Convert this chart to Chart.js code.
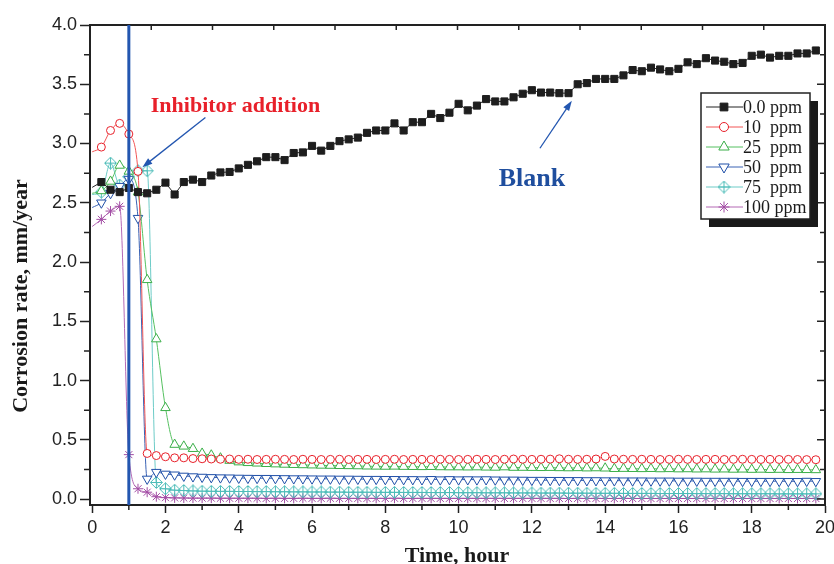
<!DOCTYPE html>
<html>
<head>
<meta charset="utf-8">
<script src="https://cdn.jsdelivr.net/npm/chart.js@4.4.0/dist/chart.umd.min.js"></script>
<style>
  html, body { margin: 0; padding: 0; background: #fff; }
</style>
</head>
<body>
<canvas id="myChart" width="834" height="564"></canvas>
<script>

// sampling times, hour
var hours = [
    0, 0.25, 0.5, 0.75, 1, 1.25, 1.5, 1.75, 2, 2.25, 2.5, 2.75, 3, 3.25, 3.5, 3.75,
    4, 4.25, 4.5, 4.75, 5, 5.25, 5.5, 5.75, 6, 6.25, 6.5, 6.75, 7, 7.25, 7.5, 7.75,
    8, 8.25, 8.5, 8.75, 9, 9.25, 9.5, 9.75, 10, 10.25, 10.5, 10.75, 11, 11.25, 11.5, 11.75,
    12, 12.25, 12.5, 12.75, 13, 13.25, 13.5, 13.75, 14, 14.25, 14.5, 14.75, 15, 15.25, 15.5, 15.75,
    16, 16.25, 16.5, 16.75, 17, 17.25, 17.5, 17.75, 18, 18.25, 18.5, 18.75, 19, 19.25, 19.5, 19.75
];

// corrosion rate, mm/year
var ppm0 = [
    2.63, 2.675, 2.61, 2.59,  2.625, 2.59, 2.58, 2.61,  2.67, 2.57, 2.675, 2.695,  2.675, 2.73, 2.756, 2.76,
    2.79, 2.82, 2.85, 2.885,  2.885, 2.86, 2.92, 2.925,  2.98, 2.94, 2.98, 3.02,  3.035, 3.05, 3.09, 3.11,
    3.11, 3.17, 3.11, 3.18,  3.18, 3.25, 3.215, 3.26,  3.335, 3.28, 3.32, 3.375,  3.355, 3.355, 3.39, 3.42,
    3.45, 3.43, 3.43, 3.425,  3.425, 3.50, 3.51, 3.545,  3.545, 3.545, 3.575, 3.62,  3.61, 3.64, 3.625, 3.61,
    3.63, 3.685, 3.67, 3.72,  3.70, 3.69, 3.67, 3.68,  3.74, 3.75, 3.725, 3.74,  3.74, 3.76, 3.76, 3.785
];
var ppm10 = [
    2.93, 2.97, 3.11, 3.17,  3.08, 2.765, 0.385, 0.367,  0.357, 0.348, 0.348, 0.342,  0.340, 0.338, 0.336, 0.338,
    0.335, 0.336, 0.334, 0.335,  0.336, 0.335, 0.334, 0.336,  0.335, 0.334, 0.335, 0.336,  0.334, 0.335, 0.335, 0.334,
    0.335, 0.336, 0.334, 0.335,  0.335, 0.334, 0.336, 0.335,  0.334, 0.335, 0.336, 0.335,  0.334, 0.336, 0.338, 0.336,
    0.335, 0.336, 0.337, 0.340,  0.336, 0.335, 0.336, 0.338,  0.360, 0.338, 0.336, 0.335,  0.336, 0.335, 0.334, 0.335,
    0.336, 0.335, 0.334, 0.335,  0.335, 0.334, 0.335, 0.336,  0.335, 0.334, 0.335, 0.334,  0.335, 0.334, 0.333, 0.332
];
var ppm25 = [
    2.58, 2.60, 2.68, 2.815,  2.765, 2.59, 1.85, 1.35,  0.77, 0.46, 0.445, 0.425,  0.385, 0.37, 0.345, 0.325,
    0.312, 0.306, 0.302, 0.298,  0.295, 0.292, 0.290, 0.288,  0.286, 0.284, 0.283, 0.281,  0.280, 0.279, 0.277, 0.276,
    0.275, 0.276, 0.274, 0.273,  0.272, 0.273, 0.271, 0.270,  0.270, 0.269, 0.270, 0.268,  0.267, 0.270, 0.266, 0.266,
    0.265, 0.264, 0.265, 0.263,  0.262, 0.263, 0.261, 0.262,  0.260, 0.256, 0.257, 0.256,  0.255, 0.256, 0.254, 0.255,
    0.253, 0.254, 0.252, 0.253,  0.251, 0.252, 0.250, 0.251,  0.249, 0.250, 0.248, 0.249,  0.247, 0.248, 0.247, 0.246
];
var ppm50 = [
    2.46, 2.50, 2.58, 2.64,  2.70, 2.37, 0.17, 0.227,  0.212, 0.205, 0.195, 0.190,  0.186, 0.183, 0.181, 0.180,
    0.178, 0.177, 0.176, 0.176,  0.175, 0.174, 0.173, 0.173,  0.172, 0.171, 0.171, 0.170,  0.170, 0.169, 0.168, 0.168,
    0.167, 0.167, 0.166, 0.166,  0.165, 0.167, 0.164, 0.166,  0.164, 0.165, 0.164, 0.165,  0.163, 0.162, 0.162, 0.161,
    0.160, 0.160, 0.159, 0.159,  0.158, 0.158, 0.157, 0.157,  0.156, 0.156, 0.155, 0.155,  0.155, 0.154, 0.154, 0.154,
    0.153, 0.153, 0.153, 0.152,  0.152, 0.152, 0.152, 0.151,  0.151, 0.151, 0.151, 0.151,  0.150, 0.150, 0.152, 0.150
];
var ppm75 = [
    2.57, 2.59, 2.835, 2.65,  2.72, 2.77, 2.77, 0.14,  0.087, 0.075, 0.072, 0.069,  0.067, 0.066, 0.065, 0.065,
    0.064, 0.064, 0.063, 0.063,  0.062, 0.062, 0.061, 0.061,  0.060, 0.060, 0.059, 0.059,  0.058, 0.058, 0.058, 0.057,
    0.057, 0.057, 0.056, 0.056,  0.056, 0.055, 0.055, 0.055,  0.054, 0.054, 0.054, 0.053,  0.053, 0.053, 0.052, 0.052,
    0.052, 0.051, 0.051, 0.051,  0.050, 0.050, 0.050, 0.049,  0.049, 0.049, 0.048, 0.048,  0.048, 0.048, 0.047, 0.047,
    0.047, 0.047, 0.046, 0.046,  0.046, 0.046, 0.045, 0.045,  0.045, 0.045, 0.045, 0.044,  0.044, 0.044, 0.044, 0.044
];
var ppm100 = [
    2.30, 2.36, 2.43, 2.47,  0.375, 0.087, 0.058, 0.020,  0.012, 0.010, 0.009, 0.008,  0.008, 0.008, 0.007, 0.007,
    0.007, 0.007, 0.007, 0.006,  0.007, 0.006, 0.006, 0.007,  0.006, 0.006, 0.007, 0.006,  0.006, 0.006, 0.006, 0.006,
    0.006, 0.007, 0.006, 0.006,  0.006, 0.006, 0.006, 0.006,  0.006, 0.006, 0.006, 0.006,  0.006, 0.006, 0.006, 0.006,
    0.006, 0.006, 0.006, 0.006,  0.005, 0.006, 0.005, 0.006,  0.005, 0.005, 0.006, 0.005,  0.005, 0.005, 0.005, 0.005,
    0.005, 0.005, 0.005, 0.005,  0.005, 0.005, 0.005, 0.005,  0.005, 0.005, 0.005, 0.005,  0.005, 0.005, 0.005, 0.005
];

var seriesNames = ["0.0 ppm", "10  ppm", "25  ppm", "50  ppm", "75  ppm", "100 ppm"];
var seriesValues = [ppm0, ppm10, ppm25, ppm50, ppm75, ppm100];
var xTicks = [0, 2, 4, 6, 8, 10, 12, 14, 16, 18, 20];
var yTicks = [0, 0.5, 1, 1.5, 2, 2.5, 3, 3.5, 4];
var additionTime = 1;   // hour

// styles
var lineColors = ["#222222", "#f25555", "#55c060", "#3a62b4", "#6ccbc7", "#b468b4"];
var markColors = ["#1e1e1e", "#e8202a", "#3aae48", "#1f4fa8", "#4dbcb8", "#a24ca4"];

function diamondCross(color) {
    var c = document.createElement("canvas");
    c.width = 13; c.height = 13;
    var g = c.getContext("2d");
    g.strokeStyle = color; g.lineWidth = 1;
    g.beginPath();
    g.moveTo(6.5, 0.5); g.lineTo(12.5, 6.5); g.lineTo(6.5, 12.5); g.lineTo(0.5, 6.5); g.closePath();
    g.moveTo(6.5, 1); g.lineTo(6.5, 12);
    g.moveTo(1, 6.5); g.lineTo(12, 6.5);
    g.stroke();
    return c;
}

var markStyles = ["rect", "circle", "triangle", "triangle", diamondCross(markColors[4]), "star"];
var markRotation = [0, 0, 0, 180, 0, 0];
var markRadius = [5, 4, 5.5, 5.5, 6, 5];
var markFill = ["#1e1e1e", "#ffffff", "#ffffff", "#ffffff", "#ffffff", "#ffffff"];

var datasets = seriesValues.map(function (vals, k) {
    return {
        label: seriesNames[k],
        data: vals.map(function (v, i) { return { x: hours[i], y: v }; }),
        borderColor: lineColors[k],
        borderWidth: 1,
        tension: k === 0 ? 0 : 0.4,
        cubicInterpolationMode: k === 0 ? "default" : "monotone",
        pointStyle: markStyles[k],
        rotation: markRotation[k],
        pointRadius: function (c) { return c.dataIndex === 0 ? 0 : markRadius[k]; },
        pointBorderColor: markColors[k],
        pointBackgroundColor: markFill[k],
        pointBorderWidth: 1
    };
});

// annotations, in data units
var notes = [
    { text: "Inhibitor addition", x: 3.91, y: 3.27, color: "#e8202a", size: 22 },
    { text: "Blank", x: 12.0, y: 2.64, color: "#1f4e9e", size: 26 }
];
var arrows = [
    { from: [3.09, 3.22], to: [1.37, 2.80] },
    { from: [12.22, 2.96], to: [13.09, 3.36] }
];

function drawArrow(ctx, x1, y1, x2, y2, color) {
    var ang = Math.atan2(y2 - y1, x2 - x1), len = 10, w = 3.5;
    var ca = Math.cos(ang), sa = Math.sin(ang);
    ctx.strokeStyle = color; ctx.fillStyle = color; ctx.lineWidth = 1.3;
    ctx.beginPath(); ctx.moveTo(x1, y1); ctx.lineTo(x2 - ca * len * 0.7, y2 - sa * len * 0.7); ctx.stroke();
    ctx.beginPath();
    ctx.moveTo(x2, y2);
    ctx.lineTo(x2 - ca * len + sa * w, y2 - sa * len - ca * w);
    ctx.lineTo(x2 - ca * len - sa * w, y2 - sa * len + ca * w);
    ctx.closePath(); ctx.fill();
}

var decor = {
    id: "decor",
    afterDatasetsDraw: function (chart) {
        var ctx = chart.ctx, a = chart.chartArea;
        var xs = chart.scales.x, ys = chart.scales.y;
        ctx.save();

        // frame top / right
        ctx.strokeStyle = "#222"; ctx.lineWidth = 2;
        ctx.beginPath();
        ctx.moveTo(a.left, a.top); ctx.lineTo(a.right, a.top); ctx.lineTo(a.right, a.bottom);
        ctx.stroke();

        // minor ticks
        ctx.lineWidth = 1.5;
        ctx.beginPath();
        for (var h = 1; h < 20; h += 2) {
            var px = xs.getPixelForValue(h);
            ctx.moveTo(px, a.bottom); ctx.lineTo(px, a.bottom + 5);
        }
        for (var v = 0.25; v < 4; v += 0.5) {
            var py = ys.getPixelForValue(v);
            ctx.moveTo(a.left, py); ctx.lineTo(a.left - 6, py);
            ctx.moveTo(a.right, py); ctx.lineTo(a.right - 5, py);
        }
        for (var t = 0; t < yTicks.length; t++) {
            var py2 = ys.getPixelForValue(yTicks[t]);
            ctx.moveTo(a.right, py2); ctx.lineTo(a.right - 8, py2);
        }
        // top axis: 12 plain divisions
        for (var q = 1; q < 12; q++) {
            var px3 = a.left + (a.right - a.left) * q / 12;
            ctx.moveTo(px3, a.top); ctx.lineTo(px3, a.top + 5);
        }
        ctx.stroke();

        // inhibitor addition line
        var ax = xs.getPixelForValue(additionTime);
        ctx.strokeStyle = "#2356b0"; ctx.lineWidth = 3;
        ctx.beginPath(); ctx.moveTo(ax, a.top); ctx.lineTo(ax, a.bottom); ctx.stroke();

        // arrows and notes
        arrows.forEach(function (ar) {
            drawArrow(ctx, xs.getPixelForValue(ar.from[0]), ys.getPixelForValue(ar.from[1]),
                xs.getPixelForValue(ar.to[0]), ys.getPixelForValue(ar.to[1]), "#2356b0");
        });
        ctx.textAlign = "center"; ctx.textBaseline = "alphabetic";
        notes.forEach(function (n) {
            ctx.fillStyle = n.color;
            ctx.font = "bold " + n.size + "px 'Liberation Serif'";
            ctx.fillText(n.text, xs.getPixelForValue(n.x), ys.getPixelForValue(n.y));
        });

        // axis titles
        ctx.fillStyle = "#1a1a1a";
        ctx.font = "bold 22px 'Liberation Serif'";
        ctx.fillText("Time, hour", 457, 562);
        ctx.save();
        ctx.translate(27, 296);
        ctx.rotate(-Math.PI / 2);
        ctx.fillText("Corrosion rate, mm/year", 0, 0);
        ctx.restore();

        // legend
        var lx = 701, ly = 93, lw = 109, lh = 126;
        ctx.fillStyle = "#1a1a1a";
        ctx.fillRect(lx + 8, ly + 8, lw, lh);
        ctx.fillStyle = "#fff";
        ctx.fillRect(lx, ly, lw, lh);
        ctx.strokeStyle = "#222"; ctx.lineWidth = 1.5;
        ctx.strokeRect(lx, ly, lw, lh);
        ctx.font = "18px 'Liberation Serif'";
        ctx.textAlign = "left"; ctx.textBaseline = "middle";
        chart.data.datasets.forEach(function (ds, k) {
            var ry = ly + 14 + k * 20;
            ctx.strokeStyle = lineColors[k]; ctx.lineWidth = 1;
            ctx.beginPath(); ctx.moveTo(lx + 5, ry); ctx.lineTo(lx + 42, ry); ctx.stroke();
            ctx.strokeStyle = markColors[k]; ctx.fillStyle = markFill[k];
            Chart.helpers.drawPoint(ctx, {
                pointStyle: markStyles[k], rotation: markRotation[k],
                radius: markRadius[k] + 0.5, borderWidth: 1
            }, lx + 23, ry);
            ctx.fillStyle = "#1a1a1a";
            ctx.fillText(ds.label, lx + 42, ry + 1);
        });
        ctx.restore();
    }
};

var ctx = document.getElementById("myChart").getContext("2d");

var myChart = new Chart(ctx, {
    type: "line",
    data: { datasets: datasets },
    options: {
        responsive: false,
        animation: false,
        devicePixelRatio: 1,
        layout: { padding: { top: 25, right: 9, left: 0, bottom: 0 } },
        plugins: { legend: { display: false }, tooltip: { enabled: false } },
        scales: {
            x: {
                type: "linear",
                min: -0.06,
                max: 20,
                afterFit: function (s) { s.height = 59; s.paddingLeft = 0; s.paddingRight = 0; },
                border: { display: true, color: "#222", width: 2 },
                grid: { display: true, drawOnChartArea: false, drawTicks: true, tickLength: 8, tickColor: "#222", tickWidth: 1.5 },
                ticks: {
                    stepSize: 2,
                    includeBounds: false,
                    maxRotation: 0,
                    padding: 4,
                    color: "#222",
                    font: { family: "'Liberation Sans'", size: 18 },
                    callback: function (v) { return xTicks.indexOf(v) >= 0 ? String(v) : ""; }
                }
            },
            y: {
                type: "linear",
                min: -0.05,
                max: 4,
                afterFit: function (s) { s.width = 90; s.paddingTop = 0; s.paddingBottom = 0; },
                border: { display: true, color: "#222", width: 2 },
                grid: { display: true, drawOnChartArea: false, drawTicks: true, tickLength: 10, tickColor: "#222", tickWidth: 1.5 },
                ticks: {
                    stepSize: 0.5,
                    includeBounds: false,
                    padding: 3,
                    color: "#222",
                    font: { family: "'Liberation Sans'", size: 18 },
                    callback: function (v) { return v.toFixed(1); }
                }
            }
        }
    },
    plugins: [decor]
});

</script>
</body>
</html>
